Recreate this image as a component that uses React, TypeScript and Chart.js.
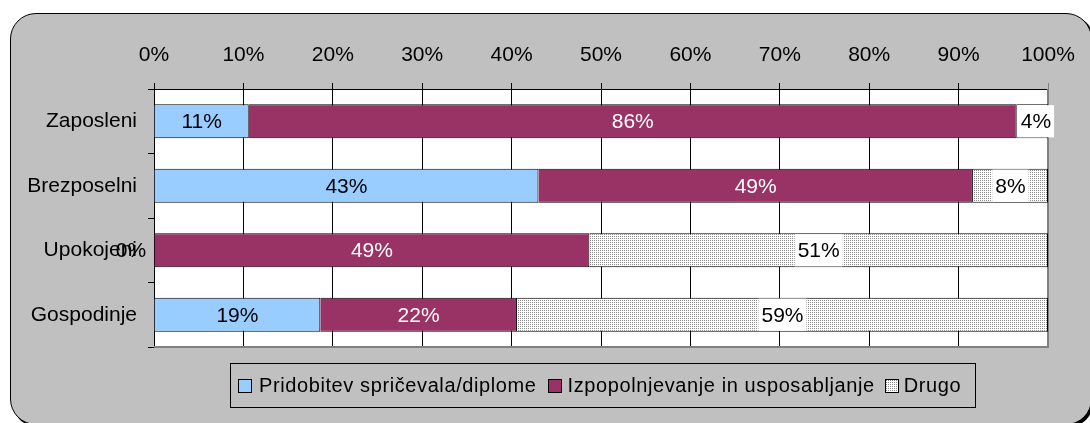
import React, { useEffect, useMemo, useRef } from 'react';
import { Chart, registerables } from 'chart.js';

Chart.register(...registerables);

const categories = ['Zaposleni', 'Brezposelni', 'Upokojeni', 'Gospodinje'];
const seriesNames = ['Pridobitev spričevala/diplome', 'Izpopolnjevanje in usposabljanje', 'Drugo'];
const diplomaValues = [10.6, 43.0, 0, 18.6];
const trainingValues = [85.9, 48.6, 48.7, 22.0];
const otherValues = [3.5, 8.4, 51.3, 59.4];
const xTickValues = [0, 10, 20, 30, 40, 50, 60, 70, 80, 90, 100];

const FONT = '"Liberation Sans", Arial, sans-serif';
const BLUE = '#99CCFF';
const MAROON = '#993366';

function makeDotsCanvas(): HTMLCanvasElement {
  const c = document.createElement('canvas');
  c.width = 2;
  c.height = 2;
  const g = c.getContext('2d')!;
  g.fillStyle = '#ffffff';
  g.fillRect(0, 0, 2, 2);
  g.fillStyle = '#8c8c8c';
  g.fillRect(0, 0, 1, 1);
  return c;
}

const plotBgPlugin = {
  id: 'plotBg',
  beforeDraw(chart: any) {
    const { ctx, chartArea: a } = chart;
    ctx.save();
    ctx.fillStyle = '#ffffff';
    ctx.fillRect(a.left, a.top, a.right - a.left, a.bottom - a.top);
    ctx.restore();
  },
  beforeDatasetsDraw(chart: any) {
    const { ctx, chartArea: a } = chart;
    ctx.save();
    ctx.strokeStyle = '#808080';
    ctx.lineWidth = 2;
    ctx.beginPath();
    ctx.moveTo(a.right, a.top);
    ctx.lineTo(a.right, a.bottom);
    ctx.lineTo(a.left, a.bottom);
    ctx.stroke();
    ctx.restore();
  },
};

const labelPlugin = {
  id: 'barLabels',
  afterDatasetsDraw(chart: any) {
    const ctx = chart.ctx;
    ctx.save();
    ctx.font = `21px ${FONT}`;
    ctx.textAlign = 'center';
    ctx.textBaseline = 'middle';
    chart.data.datasets.forEach((ds: any, di: number) => {
      const meta = chart.getDatasetMeta(di);
      meta.data.forEach((el: any, i: number) => {
        const v = ds.data[i] as number;
        const { x, y, base, height } = el.getProps(['x', 'y', 'base', 'height'], true);
        const text = Math.round(v) + '%';
        const w = ctx.measureText(text).width + 6;
        const left = Math.min(x, base);
        const barW = Math.abs(x - base);
        let cx = (x + base) / 2;
        if (v === 0) cx = base - 23;
        else if (w > barW) cx = left + 1 + w / 2;
        if (di === 2) {
          ctx.fillStyle = '#ffffff';
          ctx.fillRect(cx - w / 2, y - height / 2 + 1, w, height - 2);
        }
        ctx.fillStyle = di === 1 ? '#ffffff' : '#000000';
        ctx.fillText(text, cx, y + 1);
      });
    });
    ctx.restore();
  },
};

export default function App() {
  const canvasRef = useRef<HTMLCanvasElement | null>(null);
  const dotsUrl = useMemo(() => makeDotsCanvas().toDataURL(), []);

  useEffect(() => {
    const canvas = canvasRef.current;
    if (!canvas) return;
    const ctx = canvas.getContext('2d')!;
    const pattern = ctx.createPattern(makeDotsCanvas(), 'repeat')!;
    const chart = new Chart(canvas, {
      type: 'bar',
      data: {
        labels: categories,
        datasets: [
          { label: seriesNames[0], data: diplomaValues, backgroundColor: BLUE, borderColor: '#000', borderWidth: 1 },
          { label: seriesNames[1], data: trainingValues, backgroundColor: MAROON, borderColor: '#000', borderWidth: 1 },
          { label: seriesNames[2], data: otherValues, backgroundColor: pattern as any, borderColor: '#000', borderWidth: 1 },
        ],
      },
      options: {
        indexAxis: 'y',
        responsive: false,
        animation: false,
        layout: { padding: { left: 0, right: 42, top: 0, bottom: 76 } },
        datasets: { bar: { categoryPercentage: 1, barPercentage: 0.53 } },
        plugins: { legend: { display: false }, tooltip: { enabled: false } },
        scales: {
          x: {
            position: 'top',
            stacked: true,
            min: 0,
            max: 100,
            afterFit: (scale: any) => {
              scale.height = 89;
            },
            afterBuildTicks: (scale: any) => {
              scale.ticks = xTickValues.map((v) => ({ value: v }));
            },
            ticks: {
              padding: 15,
              color: '#000',
              font: { family: FONT, size: 21 },
              callback: (v: any) => v + '%',
            },
            grid: {
              color: (c: any) => (c.tick && c.tick.value === 100 ? '#808080' : '#000'),
              lineWidth: 1,
              tickLength: 6,
              drawTicks: true,
            },
            border: { color: '#000', width: 1 },
          },
          y: {
            stacked: true,
            afterFit: (scale: any) => {
              scale.width = 154;
            },
            ticks: {
              padding: 11,
              color: '#000',
              font: { family: FONT, size: 21 },
            },
            grid: {
              offset: true,
              drawOnChartArea: false,
              tickLength: 6,
              color: '#000',
            },
            border: { color: '#000', width: 1 },
          },
        },
      },
      plugins: [plotBgPlugin, labelPlugin],
    });
    return () => chart.destroy();
  }, []);

  const swatch = (bg: string, mr: number, img?: string): React.CSSProperties => ({
    display: 'inline-block',
    width: 14,
    height: 14,
    boxSizing: 'border-box',
    border: '1px solid #000',
    background: bg,
    backgroundImage: img ? `url(${img})` : undefined,
    marginRight: mr,
    flex: '0 0 auto',
  });

  return (
    <div style={{ position: 'fixed', left: 0, top: 0, width: 1090, height: 423, overflow: 'hidden', background: '#fff' }}>
      <div
        style={{
          position: 'absolute',
          left: 10,
          top: 13,
          width: 1082,
          height: 412,
          boxSizing: 'border-box',
          border: '1px solid #000',
          borderRadius: 26,
          background: '#C0C0C0',
          boxShadow: '2px 2px 0 #000',
        }}
      />
      <canvas ref={canvasRef} width={1090} height={423} style={{ position: 'absolute', left: 0, top: 0, width: 1090, height: 423 }} />
      <div
        style={{
          position: 'absolute',
          left: 230,
          top: 363,
          width: 746,
          height: 45,
          boxSizing: 'border-box',
          border: '1px solid #000',
          display: 'flex',
          alignItems: 'center',
          paddingLeft: 7,
          fontFamily: FONT,
          fontSize: 20,
          letterSpacing: '0.6px',
          color: '#000',
          whiteSpace: 'nowrap',
        }}
      >
        <span style={swatch(BLUE, 7)} />
        <span style={{ marginRight: 11 }}>{seriesNames[0]}</span>
        <span style={swatch(MAROON, 6)} />
        <span style={{ marginRight: 10 }}>{seriesNames[1]}</span>
        <span style={swatch('#fff', 5, dotsUrl)} />
        <span>{seriesNames[2]}</span>
      </div>
    </div>
  );
}
